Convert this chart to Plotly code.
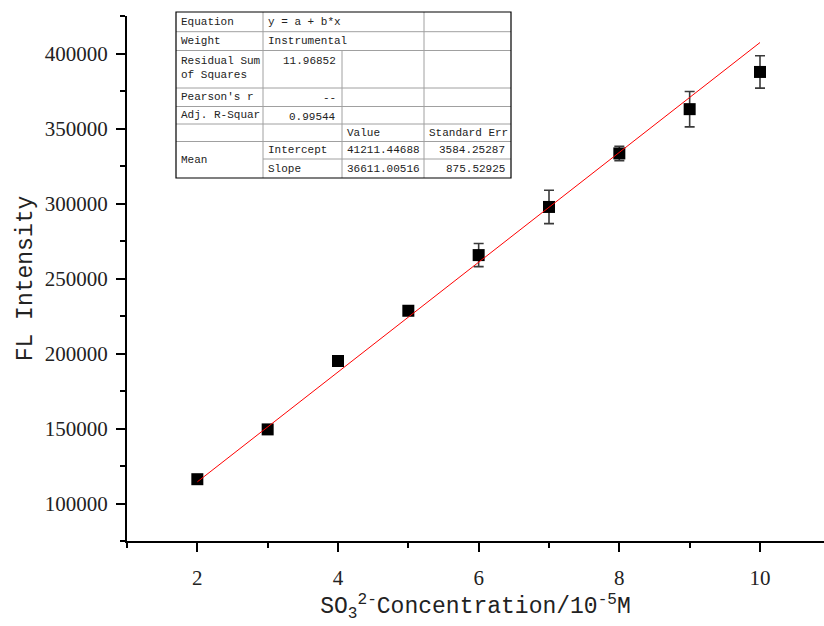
import plotly.graph_objects as go

# ---- data ----
conc = [2, 3, 4, 5, 6, 7, 8, 9, 10]
intensity = [116200, 149400, 195000, 228500, 265600, 297700, 333400, 362900, 387700]
err = [2500, 1200, 2200, 1200, 7700, 11100, 4800, 11800, 10800]
intercept = 41211.44688
slope = 36611.00516
fit_x = [2, 10]
fit_y = [intercept + slope * v for v in fit_x]

x_ticks = [2, 4, 6, 8, 10]
y_ticks = [100000, 150000, 200000, 250000, 300000, 350000, 400000]

table_rows = [
    ["Equation", "y = a + b*x", "", ""],
    ["Weight", "Instrumental", "", ""],
    ["Residual Sum<br>of Squares", "11.96852", "", ""],
    ["Pearson's r", "--", "", ""],
    ["Adj. R-Squar", "0.99544", "", ""],
    ["", "", "Value", "Standard Err"],
    ["Mean", "Intercept", "41211.44688", "3584.25287"],
    ["", "Slope", "36611.00516", "875.52925"],
]

W, H = 824, 626
ML, MR, MT, MB = 127, 0, 16, 85

fig = go.Figure()
fig.add_trace(go.Scatter(
    x=conc, y=intensity, mode="markers",
    marker=dict(symbol="square", size=12, color="black"),
    error_y=dict(type="data", array=err, visible=True, color="#3a3a3a",
                 thickness=1.6, width=5),
    showlegend=False))
fig.add_trace(go.Scatter(
    x=fit_x, y=fit_y, mode="lines",
    line=dict(color="red", width=1), showlegend=False))

# ---- table (drawn in pixel-derived paper coordinates) ----
def px(x):
    return (x - ML) / (W - ML - MR)

def py(y):
    return 1 - (y - MT) / (H - MT - MB)

cols = [176, 263, 342, 424, 511]
rows = [12, 31.7, 50.5, 88, 106.5, 124, 141.5, 159, 178]
grid = "#a0a0a0"
shapes = []

def line(x0, y0, x1, y1, color=grid, w=1):
    shapes.append(dict(type="line", xref="paper", yref="paper",
                       x0=px(x0), y0=py(y0), x1=px(x1), y1=py(y1),
                       line=dict(color=color, width=w), layer="above"))

for i in range(1, 8):
    x_start = cols[1] if i == 7 else cols[0]
    line(x_start, rows[i], cols[4], rows[i])
line(cols[1], rows[0], cols[1], rows[8])
line(cols[2], rows[2], cols[2], rows[8])
line(cols[3], rows[0], cols[3], rows[8])
shapes.append(dict(type="rect", xref="paper", yref="paper",
                   x0=px(cols[0]), y0=py(rows[8]), x1=px(cols[4]), y1=py(rows[0]),
                   line=dict(color="black", width=1.2), fillcolor="rgba(0,0,0,0)",
                   layer="above"))

annots = []
tfont = dict(family="Liberation Mono, monospace", size=11, color="#222")

def cell_text(text, x, y, anchor="left", yanchor="middle"):
    annots.append(dict(text=text, xref="paper", yref="paper", x=px(x), y=py(y),
                       xanchor=anchor, yanchor=yanchor, showarrow=False,
                       font=tfont, align="left"))

for r, row in enumerate(table_rows):
    for c, txt in enumerate(row):
        if not txt:
            continue
        y_mid = (rows[r] + rows[r + 1]) / 2
        if r == 6 and c == 0:
            y_mid = (rows[6] + rows[8]) / 2
        if c == 0 and r == 2:
            cell_text(txt, cols[0] + 3, rows[2] + 2, yanchor="top")
            continue
        if r in (2, 3, 4) and c == 1:
            cell_text(txt, cols[2] - 4, rows[r] + 2, anchor="right", yanchor="top")
        elif c == 3 and r >= 6:
            cell_text(txt, cols[4] - 4, y_mid, anchor="right")
        else:
            cell_text(txt, cols[c] + 3, y_mid)

ax_common = dict(
    showline=True, linecolor="black", linewidth=2, mirror=False,
    ticks="outside", ticklen=9, tickwidth=1.6, tickcolor="black",
    showgrid=False, zeroline=False,
    tickfont=dict(family="Liberation Serif, serif", size=21, color="#222"),
)

fig.update_layout(
    width=W, height=H,
    margin=dict(l=ML, r=MR, t=MT, b=MB),
    paper_bgcolor="white", plot_bgcolor="white",
    xaxis=dict(range=[1, 10.91], tickvals=x_ticks, ticktext=[str(v) for v in x_ticks],
               minor=dict(dtick=1, tick0=1, ticks="outside", ticklen=5,
                          tickwidth=1.6, tickcolor="black"),
               ticklabelstandoff=8,
               title=dict(text="SO<sub>3</sub><sup>2-</sup>Concentration/10<sup>-5</sup>M",
                          font=dict(family="Liberation Mono, monospace", size=23, color="#222"),
                          standoff=8),
               **ax_common),
    yaxis=dict(range=[75000, 425000], tickvals=y_ticks, ticktext=[str(v) for v in y_ticks],
               minor=dict(dtick=25000, tick0=75000, ticks="outside", ticklen=5,
                          tickwidth=1.6, tickcolor="black"),
               ticklabelstandoff=4,
               title=dict(text="FL Intensity",
                          font=dict(family="Liberation Mono, monospace", size=23, color="#222"),
                          standoff=6),
               **ax_common),
    shapes=shapes,
    annotations=annots,
)

fig.write_html("out.html")
